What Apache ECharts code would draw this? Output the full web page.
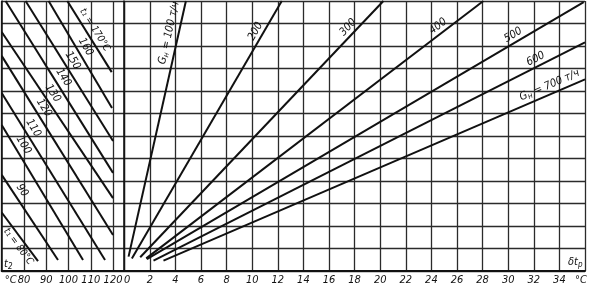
<!DOCTYPE html>
<html><head><meta charset="utf-8">
<script src="https://cdn.jsdelivr.net/npm/echarts@6/dist/echarts.min.js"></script>
<style>html,body{margin:0;padding:0;background:#fff}#c{width:590px;height:286px}</style>
</head><body><div id="c"></div>
<script>
// ---- data ----
// right panel: G_н lines, δt_р (°C) vs. unlabeled vertical scale (12 grid rows)
const gNames  = ['100','200','300','400','500','600','700'];
const gStartX = [0.34, 0.60, 1.25, 1.72, 1.77, 2.29, 3.07];
const gStartY = [0.64, 0.56, 0.61, 0.56, 0.53, 0.46, 0.46];
const gEndX   = [4.82, 12.31, 20.25, 28.06, 35.9, 36, 36];
const gEndY   = [12, 12, 12, 12, 11.95, 10.16, 8.52];
// left panel: t1 lines, t2 (°C)
const t1Names  = [170, 160, 150, 140, 130, 120, 110, 100, 90, 80];
const t1StartX = [99.46, 91.06, 80.73, 71.75, 70, 70, 70, 70, 70, 70];
const t1StartY = [12, 12, 12, 12, 10.62, 9.56, 7.91, 6.49, 4.27, 2.6];
const t1EndX   = [119.39, 119.53, 119.98, 119.98, 119.98, 119.98, 116.39, 106.5, 95.28, 86.3];
const t1EndY   = [8.84, 7.24, 5.78, 4.36, 3.24, 1.6, 0.49, 0.49, 0.49, 0.44];
// tick labels
const t2TickValues = [70, 80, 90, 100, 110, 120];
const t2TickLabels = ['°C', '80', '90', '100', '110', '120'];
const dtTickValues = [0,2,4,6,8,10,12,14,16,18,20,22,24,26,28,30,32,34,36];
const dtTickLabels = ['0','2','4','6','8','10','12','14','16','18','20','22','24','26','28','30','32','34','°C'];
const gUnit = 'т/ч';

// ---- styling ----
const INK = '#111';
const GRID = '#2b2b2b';
const TFONT = "'Liberation Sans Narrow','DejaVu Sans Condensed',sans-serif";
const LFONT = "'DejaVu Sans Condensed','Liberation Sans Narrow',sans-serif";
const gLabelDist = [[3,3],[30,2],[34,2],[42,2],[68,2],[42,2],[3,2]];
const t1LabelDist = [[15,3],[49,3],[66,3],[86,3],[70,3],[57,3],[37,3],[19,3],[18,3],[16,2]];

const chart = echarts.init(document.getElementById('c'), null, {renderer: 'canvas'});

const richBase = {
  g: {fontFamily: LFONT, fontStyle: 'italic', fontSize: 11, color: INK},
  h: {fontFamily: LFONT, fontStyle: 'italic', fontSize: 10, color: INK},
  s: {fontFamily: LFONT, fontStyle: 'italic', fontSize: 8, color: INK, padding: [5, 0, 0, 0]}
};

function gText(i) {
  if (i === 0 || i === gNames.length - 1) return '{g|G}{s|н}{g| = ' + gNames[i] + ' ' + gUnit + '}';
  return '{g|' + gNames[i] + '}';
}
function tText(i) {
  if (i === 0 || i === t1Names.length - 1) return '{h|t₁ = ' + t1Names[i] + '°C}';
  return '{g|' + t1Names[i] + '}';
}

const series = [];
gNames.forEach((n, i) => {
  const a = [gStartX[i], gStartY[i]], b = [gEndX[i], gEndY[i]];
  series.push({
    type: 'line', name: 'G' + n, xAxisIndex: 1, yAxisIndex: 1,
    data: [a, b], symbol: 'none', silent: true, z: 3,
    lineStyle: {color: INK, width: 2},
    markLine: {
      silent: true, symbol: 'none', animation: false,
      lineStyle: {color: 'rgba(0,0,0,0)', width: 1, type: 'solid'},
      label: {show: true, position: 'insideEndTop', distance: gLabelDist[i],
        formatter: gText(i), rich: richBase, color: INK},
      data: [[{coord: a}, {coord: b}]]
    }
  });
});
t1Names.forEach((n, i) => {
  const a = [t1StartX[i], t1StartY[i]], b = [t1EndX[i], t1EndY[i]];
  series.push({
    type: 'line', name: 't1=' + n, xAxisIndex: 0, yAxisIndex: 0,
    data: [a, b], symbol: 'none', silent: true, z: 3,
    lineStyle: {color: INK, width: 2},
    markLine: {
      silent: true, symbol: 'none', animation: false,
      lineStyle: {color: 'rgba(0,0,0,0)', width: 1, type: 'solid'},
      label: {show: true, position: i === t1Names.length - 1 ? 'insideStartBottom' : 'insideStartTop',
        distance: t1LabelDist[i], formatter: tText(i), rich: richBase, color: INK},
      data: [[{coord: a}, {coord: b}]]
    }
  });
});

const splitStyle = {show: true, lineStyle: {color: GRID, width: 1.3}};
const tickLabelBase = {fontFamily: TFONT, fontStyle: 'italic', fontSize: 11, color: INK, margin: 4};

chart.setOption({
  animation: false,
  backgroundColor: '#fff',
  grid: [
    {left: 1.7, top: 1, width: 122.5, height: 270},
    {left: 124.2, top: 1, width: 460.8, height: 270}
  ],
  xAxis: [
    {gridIndex: 0, type: 'value', min: 70, max: 125, interval: 10,
      axisLine: {show: true, lineStyle: {color: INK, width: 2}},
      axisTick: {show: false}, splitLine: splitStyle,
      axisLabel: Object.assign({}, tickLabelBase, {
        showMaxLabel: false, showMinLabel: true, hideOverlap: false,
        formatter: v => {
          const k = t2TickValues.indexOf(v);
          if (k < 0) return '';
          return k === 0 ? '{u|' + t2TickLabels[k] + '}' : t2TickLabels[k];
        },
        rich: {u: {fontFamily: TFONT, fontStyle: 'italic', fontSize: 11, color: INK, padding: [0, 0, 0, 18]}}
      })},
    {gridIndex: 1, type: 'value', min: 0, max: 36, interval: 2,
      axisLine: {show: true, lineStyle: {color: INK, width: 2}},
      axisTick: {show: false}, splitLine: splitStyle,
      axisLabel: Object.assign({}, tickLabelBase, {
        showMinLabel: true, showMaxLabel: true,
        formatter: v => {
          const k = dtTickValues.indexOf(v);
          if (k < 0) return '';
          if (k === 0) return '{z|' + dtTickLabels[k] + '}';
          if (k === dtTickValues.length - 1) return '{e|' + dtTickLabels[k] + '}';
          return dtTickLabels[k];
        },
        rich: {
          z: {fontFamily: TFONT, fontStyle: 'italic', fontSize: 11, color: INK, padding: [0, 0, 0, 6]},
          e: {fontFamily: TFONT, fontStyle: 'italic', fontSize: 11, color: INK, padding: [0, 8, 0, 0]}
        }
      })}
  ],
  yAxis: [
    {gridIndex: 0, type: 'value', min: 0, max: 12, interval: 1,
      axisLine: {show: true, lineStyle: {color: INK, width: 1.5}},
      axisTick: {show: false}, axisLabel: {show: false}, splitLine: splitStyle},
    {gridIndex: 1, type: 'value', min: 0, max: 12, interval: 1,
      axisLine: {show: true, lineStyle: {color: INK, width: 1.5}},
      axisTick: {show: false}, axisLabel: {show: false}, splitLine: splitStyle}
  ],
  graphic: [
    {type: 'text', left: 4, top: 259, z: 10,
      style: {text: '{a|t}{b|2}', rich: {
        a: {fontFamily: LFONT, fontStyle: 'italic', fontSize: 11, fill: INK},
        b: {fontFamily: LFONT, fontStyle: 'italic', fontSize: 8, fill: INK, padding: [5, 0, 0, 0]}}}},
    {type: 'text', left: 568, top: 257, z: 10,
      style: {text: '{a|δt}{b|р}', rich: {
        a: {fontFamily: LFONT, fontStyle: 'italic', fontSize: 11, fill: INK},
        b: {fontFamily: LFONT, fontStyle: 'italic', fontSize: 8, fill: INK, padding: [5, 0, 0, 0]}}}}
  ],
  series: series
});
</script>
</body></html>
